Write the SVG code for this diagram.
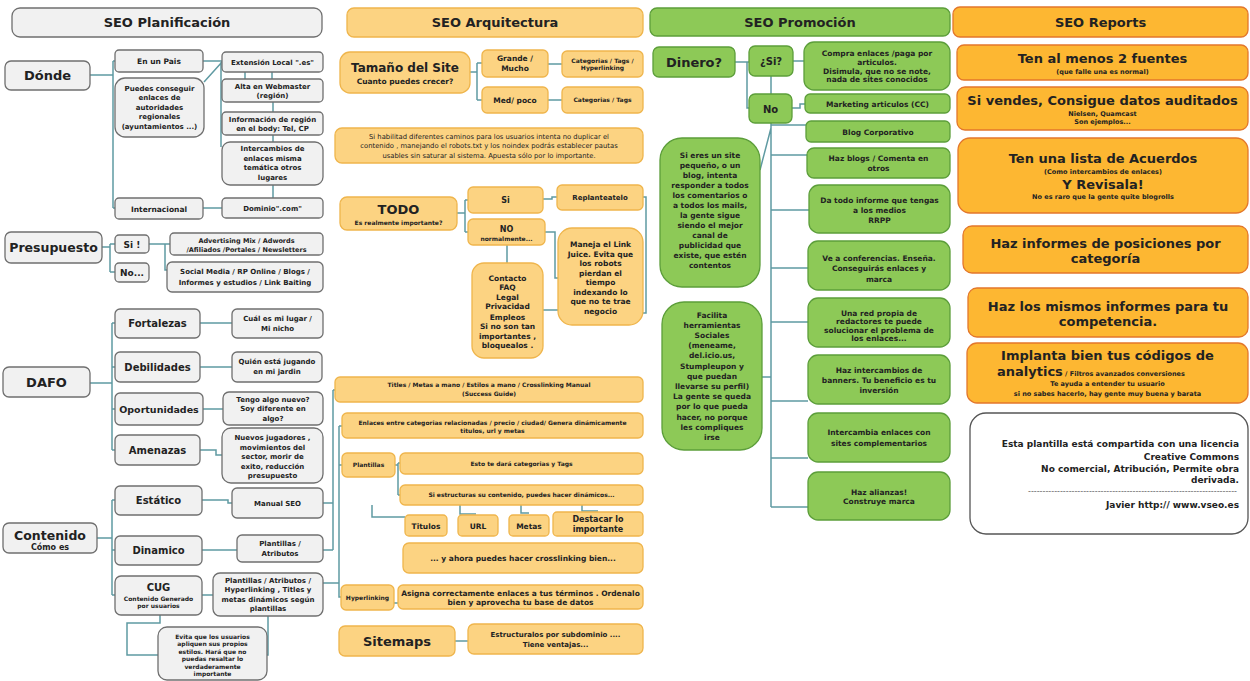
<svg xmlns="http://www.w3.org/2000/svg" width="1250" height="681" viewBox="0 0 1250 681">
<style>
text{font-family:"DejaVu Sans","Liberation Sans",sans-serif;font-weight:bold;fill:#222;text-anchor:middle}
.p{fill:#f1f1f1;stroke:#6f6f6f;stroke-width:1.3}
.a{fill:#fcd382;stroke:#efb54c;stroke-width:1.3}
.g{fill:#8dc957;stroke:#5c9e3a;stroke-width:1.3}
.r{fill:#fdb732;stroke:#e3772b;stroke-width:1.3}
.w{fill:#fff;stroke:#555;stroke-width:1.3}
.c path{fill:none;stroke:#5f9aa2;stroke-width:1.5}
.t13{font-size:13px}.t125{font-size:12.5px}.t12{font-size:12px}.t10{font-size:10px}.t95{font-size:9.5px}.t9{font-size:9px}.t8{font-size:8px}.t75{font-size:7.5px}.t7{font-size:7px}.t65{font-size:6.5px}.t6{font-size:6px}
.n{font-weight:normal;font-size:6.8px}
.e{text-anchor:end;font-size:9px}
</style>

<g class="c" id="connectors">
<path d="M90,75H113M113,61V208M113,61H115M113,208H115M203,61H222M204,82L222,62M221,62V147M245,72V79M272,72V79M273,102V112M273,135V142M273,185V198M203,208H222"/>
<path d="M102,247H110M110,244V272M110,244H115M110,272H115M149,244H170M165,244V270H167"/>
<path d="M90,383H112M112,323V450M112,323H115M112,367H115M112,409H115M112,450H115M200,323H232M200,367H232M203,409H223M200,450H216V455H222"/>
<path d="M97,538H112M112,500V595M112,500H115M112,550H115M112,595H115M202,500H228V503H232M202,550H237M202,595H213M160,615V623H127V655H158M268,616V655H267"/>
<path d="M323,503H333M333,390V550M333,390H335M323,550H333M339,426V597H341M339,426H342M339,465H342M323,583H339"/>
<path d="M470,72H477M477,63V100M477,63H482M477,100H482M548,64H562M548,100H562"/>
<path d="M457,213H465M465,200V232M465,200H468M465,232H468M543,199H552V197H557M643,197H646V313H643M545,232H555V278H558M507,245V263M543,310H558"/>
<path d="M395,465H398M398,463V495M398,463H400M398,495H400M372,505V517H405M460,505V514H476M521,505V513H529M582,505V511H598M394,603H398"/>
<path d="M455,641H468"/>
<path d="M735,62H749M747,62V108H749M771,76V94M793,61H804M792,108H800V104H805M771,123V507M771,125H806M771,155H807M771,210H809M771,268H808M771,322H808M771,401H808M771,458H808M771,507H808M760,170L771,128M762,377H771"/>
</g>

<g id="hdr-planificacion"><rect class="p" x="12" y="8" width="310" height="29" rx="8"/><text class="t13" x="167" y="27">SEO Planificación</text></g>
<g id="donde"><rect class="p" x="5" y="61" width="85" height="29" rx="6"/><text class="t13" x="47.5" y="80">Dónde</text></g>
<g id="en-un-pais"><rect class="p" x="115" y="50" width="88" height="22" rx="4"/><text class="t75" x="159" y="64">En un Pais</text></g>
<g id="puedes"><rect class="p" x="115" y="78" width="89" height="59" rx="10"/>
<text class="t7" x="159.5" y="90.5">Puedes conseguir</text><text class="t7" x="159.5" y="100">enlaces de</text><text class="t7" x="159.5" y="109.5">autoridades</text><text class="t7" x="159.5" y="119">regionales</text><text class="t7" x="159.5" y="128.5">(ayuntamientos ...)</text></g>
<g id="internacional"><rect class="p" x="115" y="198" width="88" height="21" rx="4"/><text class="t75" x="159" y="211.5">Internacional</text></g>
<g id="extension"><rect class="p" x="222" y="52" width="101" height="20" rx="4"/><text class="t7" x="272.5" y="64.5">Extensión Local ".es"</text></g>
<g id="alta"><rect class="p" x="222" y="79" width="101" height="23" rx="4"/><text class="t7" x="272.5" y="88.5">Alta en Webmaster</text><text class="t7" x="272.5" y="98">(región)</text></g>
<g id="informacion"><rect class="p" x="222" y="112" width="101" height="23" rx="4"/><text class="t7" x="272.5" y="121.5">Información de región</text><text class="t7" x="272.5" y="131">en el body: Tel, CP</text></g>
<g id="intercambios"><rect class="p" x="222" y="142" width="101" height="43" rx="8"/><text class="t7" x="272.5" y="151">Intercambios de</text><text class="t7" x="272.5" y="160.5">enlaces misma</text><text class="t7" x="272.5" y="170">temática otros</text><text class="t7" x="272.5" y="179.5">lugares</text></g>
<g id="dominio"><rect class="p" x="222" y="198" width="101" height="20" rx="4"/><text class="t7" x="272.5" y="211">Dominio".com"</text></g>

<g id="presupuesto"><rect class="p" x="5" y="232" width="97" height="31" rx="6"/><text class="t125" x="53.5" y="252">Presupuesto</text></g>
<g id="si-presu"><rect class="p" x="115" y="235" width="34" height="18" rx="4"/><text class="t9" x="132" y="247.5">Si !</text></g>
<g id="no-presu"><rect class="p" x="115" y="263" width="34" height="19" rx="4"/><text class="t9" x="132" y="276">No...</text></g>
<g id="advertising"><rect class="p" x="170" y="233" width="153" height="22" rx="4"/><text class="t65" x="246.5" y="242.5">Advertising Mix  /  Adwords</text><text class="t65" x="246.5" y="251.5">/Afiliados /Portales / Newsletters</text></g>
<g id="social"><rect class="p" x="167" y="262" width="156" height="30" rx="5"/><text class="t7" x="245" y="274">Social Media / RP Online / Blogs /</text><text class="t7" x="245" y="285">Informes y estudios / Link Baiting</text></g>

<g id="dafo"><rect class="p" x="3" y="367" width="87" height="30" rx="6"/><text class="t13" x="46.5" y="387">DAFO</text></g>
<g id="fortalezas"><rect class="p" x="115" y="309" width="85" height="29" rx="5"/><text class="t10" x="157.5" y="327">Fortalezas</text></g>
<g id="debilidades"><rect class="p" x="115" y="352" width="85" height="30" rx="5"/><text class="t10" x="157.5" y="370.5">Debilidades</text></g>
<g id="oportunidades"><rect class="p" x="115" y="393" width="88" height="32" rx="5"/><text class="t95" x="159" y="412.5">Oportunidades</text></g>
<g id="amenazas"><rect class="p" x="115" y="435" width="85" height="30" rx="5"/><text class="t10" x="157.5" y="453.5">Amenazas</text></g>
<g id="cual"><rect class="p" x="232" y="309" width="91" height="29" rx="5"/><text class="t7" x="277.5" y="321">Cuál es mi lugar /</text><text class="t7" x="277.5" y="331">Mi nicho</text></g>
<g id="quien"><rect class="p" x="232" y="352" width="90" height="30" rx="5"/><text class="t7" x="277" y="364">Quién está jugando</text><text class="t7" x="277" y="374">en mi jardin</text></g>
<g id="tengo"><rect class="p" x="223" y="392" width="100" height="33" rx="6"/><text class="t7" x="273" y="401.5">Tengo algo nuevo?</text><text class="t7" x="273" y="411">Soy diferente en</text><text class="t7" x="273" y="420.5">algo?</text></g>
<g id="nuevos"><rect class="p" x="222" y="428" width="101" height="55" rx="9"/><text class="t7" x="272.5" y="440">Nuevos jugadores ,</text><text class="t7" x="272.5" y="449.5">movimientos  del</text><text class="t7" x="272.5" y="459">sector, morir de</text><text class="t7" x="272.5" y="468.5">exito, reducción</text><text class="t7" x="272.5" y="478">presupuesto</text></g>

<g id="contenido"><rect class="p" x="3" y="523" width="94" height="30" rx="6"/><text class="t125" x="50" y="539.5">Contenido</text><text class="t8" x="50" y="550">Cómo es</text></g>
<g id="estatico"><rect class="p" x="115" y="486" width="87" height="29" rx="5"/><text class="t10" x="158.5" y="504">Estático</text></g>
<g id="manual-seo"><rect class="p" x="232" y="488" width="91" height="30" rx="5"/><text class="t7" x="277.5" y="505.5">Manual SEO</text></g>
<g id="dinamico"><rect class="p" x="115" y="536" width="87" height="29" rx="5"/><text class="t10" x="158.5" y="554">Dinamico</text></g>
<g id="plantillas-atrib"><rect class="p" x="237" y="535" width="86" height="27" rx="5"/><text class="t7" x="280" y="546">Plantillas /</text><text class="t7" x="280" y="555.5">Atributos</text></g>
<g id="cug"><rect class="p" x="115" y="576" width="87" height="39" rx="6"/><text class="t10" x="158.5" y="591">CUG</text><text class="t6" x="158.5" y="600.5">Contenido Generado</text><text class="t6" x="158.5" y="607.5">por usuarios</text></g>
<g id="plantillas-hyper"><rect class="p" x="213" y="573" width="110" height="43" rx="7"/><text class="t7" x="268" y="582.5">Plantillas / Atributos /</text><text class="t7" x="268" y="592">Hyperlinking , Titles y</text><text class="t7" x="268" y="601.5">metas dinámicos según</text><text class="t7" x="268" y="611">plantillas</text></g>
<g id="evita"><rect class="p" x="158" y="627" width="109" height="53" rx="9"/><text class="t6" x="212.5" y="638.5">Evita que los usuarios</text><text class="t6" x="212.5" y="646">apliquen sus propios</text><text class="t6" x="212.5" y="653.5">estilos. Hará que no</text><text class="t6" x="212.5" y="661">puedas resaltar lo</text><text class="t6" x="212.5" y="668.5">verdaderamente</text><text class="t6" x="212.5" y="676">importante</text></g>

<g id="hdr-arquitectura"><rect class="a" x="347" y="8" width="296" height="29" rx="7"/><text class="t13" x="495" y="27">SEO Arquitectura</text></g>
<g id="tamano"><rect class="a" x="340" y="52" width="130" height="41" rx="10"/><text class="t12" x="405" y="72">Tamaño del Site</text><text class="t75" x="405" y="83.5">Cuanto puedes crecer?</text></g>
<g id="grande"><rect class="a" x="482" y="50" width="66" height="27" rx="5"/><text class="t75" x="515" y="61">Grande /</text><text class="t75" x="515" y="70.5">Mucho</text></g>
<g id="cat-tags-hyper"><rect class="a" x="562" y="51" width="81" height="26" rx="5"/><text class="t6" x="602.5" y="62.5">Categorias / Tags /</text><text class="t6" x="602.5" y="70">Hyperlinking</text></g>
<g id="med-poco"><rect class="a" x="482" y="87" width="66" height="26" rx="5"/><text class="t75" x="515" y="102.5">Med/ poco</text></g>
<g id="cat-tags"><rect class="a" x="562" y="87" width="81" height="26" rx="5"/><text class="t6" x="602.5" y="102">Categorias / Tags</text></g>
<g id="si-habilitad"><rect class="a" x="335" y="128" width="308" height="35" rx="7"/><text class="n" x="489" y="138.5">Si habilitad diferentes caminos para los usuarios intenta no duplicar el</text><text class="n" x="489" y="148">contenido , manejando el robots.txt y los noindex podrás establecer pautas</text><text class="n" x="489" y="157.5">usables sin saturar al sistema. Apuesta sólo por lo importante.</text></g>
<g id="todo"><rect class="a" x="340" y="197" width="117" height="33" rx="7"/><text class="t13" x="398.5" y="214">TODO</text><text class="t6" x="398.5" y="224.5">Es realmente importante?</text></g>
<g id="si-arq"><rect class="a" x="468" y="187" width="75" height="26" rx="5"/><text class="t8" x="505.5" y="203">Si</text></g>
<g id="replanteatelo"><rect class="a" x="557" y="185" width="86" height="25" rx="5"/><text class="t7" x="600" y="200">Replanteatelo</text></g>
<g id="no-normalmente"><rect class="a" x="468" y="219" width="77" height="26" rx="5"/><text class="t8" x="506.5" y="231.5">NO</text><text class="t6" x="506.5" y="241">normalmente...</text></g>
<g id="maneja"><rect class="a" x="558" y="228" width="85" height="97" rx="14"/><text class="t75" x="600.5" y="247">Maneja el Link</text><text class="t75" x="600.5" y="256.5">Juice. Evita que</text><text class="t75" x="600.5" y="266">los robots</text><text class="t75" x="600.5" y="275.5">pierdan el</text><text class="t75" x="600.5" y="285">tiempo</text><text class="t75" x="600.5" y="294.5">indexando lo</text><text class="t75" x="600.5" y="304">que no te trae</text><text class="t75" x="600.5" y="313.5">negocio</text></g>
<g id="contacto"><rect class="a" x="472" y="263" width="71" height="95" rx="12"/><text class="t75" x="507.5" y="280.5">Contacto</text><text class="t75" x="507.5" y="290">FAQ</text><text class="t75" x="507.5" y="299.5">Legal</text><text class="t75" x="507.5" y="309">Privacidad</text><text class="t75" x="507.5" y="319.5">Empleos</text><text class="t75" x="507.5" y="329">Si no son tan</text><text class="t75" x="507.5" y="338.5">importantes ,</text><text class="t75" x="507.5" y="348">bloquealos .</text></g>
<g id="titles"><rect class="a" x="335" y="377" width="308" height="25" rx="5"/><text class="t6" x="489" y="387">Titles / Metas a mano / Estilos a mano / Crosslinking Manual</text><text class="t6" x="489" y="396">(Success Guide)</text></g>
<g id="enlaces"><rect class="a" x="342" y="413" width="301" height="25" rx="5"/><text class="t6" x="492.5" y="424.5">Enlaces entre categorias relacionadas / precio / ciudad/ Genera dinámicamente</text><text class="t6" x="492.5" y="432.5">titulos, url y metas</text></g>
<g id="plantillas-arq"><rect class="a" x="342" y="453" width="53" height="24" rx="5"/><text class="t6" x="368.5" y="467">Plantillas</text></g>
<g id="esto"><rect class="a" x="400" y="453" width="243" height="21" rx="5"/><text class="t6" x="521.5" y="465.5">Esto te dará categorias y Tags</text></g>
<g id="si-estructuras"><rect class="a" x="400" y="485" width="243" height="20" rx="5"/><text class="t6" x="521.5" y="497">Si estructuras su contenido, puedes hacer dinámicos...</text></g>
<g id="titulos"><rect class="a" x="405" y="515" width="42" height="21" rx="4"/><text class="t75" x="426" y="528.5">Titulos</text></g>
<g id="url"><rect class="a" x="458" y="515" width="40" height="21" rx="4"/><text class="t75" x="478" y="528.5">URL</text></g>
<g id="metas"><rect class="a" x="509" y="515" width="40" height="21" rx="4"/><text class="t75" x="529" y="528.5">Metas</text></g>
<g id="destacar"><rect class="a" x="553" y="512" width="90" height="24" rx="4"/><text class="t8" x="598" y="522">Destacar lo</text><text class="t8" x="598" y="531.5">importante</text></g>
<g id="crosslinking"><rect class="a" x="403" y="543" width="240" height="30" rx="6"/><text class="t75" x="523" y="561">... y ahora puedes hacer crosslinking bien...</text></g>
<g id="hyperlinking"><rect class="a" x="341" y="585" width="53" height="25" rx="5"/><text class="t6" x="367.5" y="600">Hyperlinking</text></g>
<g id="asigna"><rect class="a" x="398" y="585" width="245" height="24" rx="5"/><text class="t75" x="520.5" y="595.5">Asigna correctamente  enlaces a tus términos . Ordenalo</text><text class="t75" x="520.5" y="605">bien y aprovecha  tu base de datos</text></g>
<g id="sitemaps"><rect class="a" x="339" y="626" width="116" height="30" rx="6"/><text class="t13" x="397" y="646">Sitemaps</text></g>
<g id="estructuralos"><rect class="a" x="468" y="624" width="175" height="30" rx="6"/><text class="t7" x="555.5" y="636.5">Estructuralos  por subdominio ....</text><text class="t7" x="555.5" y="646.5">Tiene ventajas...</text></g>

<g id="hdr-promocion"><rect class="g" x="650" y="8" width="300" height="28" rx="7"/><text class="t13" x="800" y="26.5">SEO Promoción</text></g>
<g id="dinero"><rect class="g" x="653" y="47" width="82" height="30" rx="6"/><text class="t13" x="694" y="66.5">Dinero?</text></g>
<g id="si-dinero"><rect class="g" x="749" y="46" width="44" height="30" rx="6"/><text class="t10" x="771" y="65">¿Si?</text></g>
<g id="compra"><rect class="g" x="804" y="42" width="146" height="48" rx="10"/><text class="t75" x="877" y="56">Compra enlaces /paga por</text><text class="t75" x="877" y="64.5">articulos.</text><text class="t75" x="877" y="73.5">Disimula, que no se note,</text><text class="t75" x="877" y="82">nada de sites conocidos</text></g>
<g id="no-dinero"><rect class="g" x="749" y="94" width="43" height="29" rx="6"/><text class="t10" x="770.5" y="112.5">No</text></g>
<g id="marketing"><rect class="g" x="805" y="94" width="145" height="19" rx="5"/><text class="t75" x="877.5" y="106.5">Marketing articulos (CC)</text></g>
<g id="blog-corp"><rect class="g" x="806" y="121" width="144" height="21" rx="5"/><text class="t75" x="878" y="134.5">Blog Corporativo</text></g>
<g id="haz-blogs"><rect class="g" x="807" y="148" width="143" height="30" rx="7"/><text class="t75" x="878.5" y="161">Haz blogs / Comenta en</text><text class="t75" x="878.5" y="171">otros</text></g>
<g id="da-todo"><rect class="g" x="809" y="185" width="141" height="48" rx="10"/><text class="t75" x="879.5" y="202.5">Da todo informe que tengas</text><text class="t75" x="879.5" y="212.5">a los medios</text><text class="t75" x="879.5" y="222.5">RRPP</text></g>
<g id="conferencias"><rect class="g" x="808" y="241" width="142" height="49" rx="10"/><text class="t75" x="879" y="261">Ve a conferencias. Enseña.</text><text class="t75" x="879" y="271">Conseguirás enlaces y</text><text class="t75" x="879" y="281.5">marca</text></g>
<g id="red-propia"><rect class="g" x="808" y="298" width="142" height="49" rx="10"/><text class="t75" x="879" y="315.5">Una red propia de</text><text class="t75" x="879" y="324">redactores te puede</text><text class="t75" x="879" y="332.5">solucionar el problema de</text><text class="t75" x="879" y="341">los enlaces...</text></g>
<g id="banners"><rect class="g" x="808" y="355" width="142" height="49" rx="10"/><text class="t75" x="879" y="373">Haz intercambios de</text><text class="t75" x="879" y="383">banners. Tu beneficio es tu</text><text class="t75" x="879" y="393">inversión</text></g>
<g id="intercambia"><rect class="g" x="808" y="413" width="142" height="49" rx="10"/><text class="t75" x="879" y="434.5">Intercambia enlaces con</text><text class="t75" x="879" y="446">sites complementarios</text></g>
<g id="alianzas"><rect class="g" x="808" y="472" width="142" height="48" rx="10"/><text class="t75" x="879" y="494.5">Haz alianzas!</text><text class="t75" x="879" y="504">Construye marca</text></g>
<g id="site-pequeno"><rect class="g" x="660" y="138" width="100" height="149" rx="22"/>
<text class="t75" x="710" y="157.5">Si eres un site</text><text class="t75" x="710" y="167.5">pequeño, o un</text><text class="t75" x="710" y="177.5">blog, intenta</text><text class="t75" x="710" y="187.5">responder a todos</text><text class="t75" x="710" y="197.5">los comentarios o</text><text class="t75" x="710" y="207.5">a todos los mails,</text><text class="t75" x="710" y="217.5">la gente sigue</text><text class="t75" x="710" y="227.5">siendo el mejor</text><text class="t75" x="710" y="237.5">canal de</text><text class="t75" x="710" y="247.5">publicidad que</text><text class="t75" x="710" y="257.5">existe, que estén</text><text class="t75" x="710" y="267.5">contentos</text></g>
<g id="facilita"><rect class="g" x="662" y="302" width="100" height="148" rx="22"/>
<text class="t75" x="712" y="317.5">Facilita</text><text class="t75" x="712" y="327.7">herramientas</text><text class="t75" x="712" y="337.9">Sociales</text><text class="t75" x="712" y="348.1">(meneame,</text><text class="t75" x="712" y="358.3">del.icio.us,</text><text class="t75" x="712" y="368.5">Stumpleupon y</text><text class="t75" x="712" y="378.7">que puedan</text><text class="t75" x="712" y="388.9">llevarse su perfil)</text><text class="t75" x="712" y="399.1">La gente se queda</text><text class="t75" x="712" y="409.3">por lo que pueda</text><text class="t75" x="712" y="419.5">hacer, no porque</text><text class="t75" x="712" y="429.7">les compliques</text><text class="t75" x="712" y="439.9">irse</text></g>

<g id="hdr-reports"><rect class="r" x="953" y="7" width="295" height="30" rx="7"/><text class="t13" x="1100.5" y="27">SEO Reports</text></g>
<g id="fuentes"><rect class="r" x="957" y="45" width="291" height="35" rx="7"/><text class="t13" x="1102.5" y="62.5">Ten al menos 2 fuentes</text><text class="t65" x="1102.5" y="74">(que falle una es normal)</text></g>
<g id="auditados"><rect class="r" x="957" y="87" width="291" height="43" rx="8"/><text class="t13" x="1102.5" y="104.5">Si vendes, Consigue datos auditados</text><text class="t65" x="1102.5" y="115.5">Nielsen, Quamcast</text><text class="t65" x="1102.5" y="124">Son ejemplos...</text></g>
<g id="acuerdos"><rect class="r" x="958" y="138" width="290" height="75" rx="12"/><text class="t13" x="1103" y="163">Ten una lista de Acuerdos</text><text class="t65" x="1103" y="174">(Como intercambios de enlaces)</text><text class="t13" x="1103" y="188.5">Y Revisala!</text><text class="t65" x="1103" y="199">No es raro que la gente quite blogrolls</text></g>
<g id="posiciones"><rect class="r" x="963" y="226" width="285" height="47" rx="9"/><text class="t13" x="1105.5" y="247.8">Haz informes de posiciones por</text><text class="t13" x="1105.5" y="262.8">categoría</text></g>
<g id="competencia"><rect class="r" x="968" y="288" width="280" height="49" rx="9"/><text class="t13" x="1108" y="310.5">Haz los mismos informes para tu</text><text class="t13" x="1108" y="326">competencia.</text></g>
<g id="analytics"><rect class="r" x="967" y="343" width="281" height="60" rx="10"/><text class="t13" x="1107.5" y="359.5">Implanta bien tus códigos de</text><text class="t13" x="997" y="376" style="text-anchor:start">analytics<tspan class="t65"> / Filtros avanzados conversiones</tspan></text><text class="t65" x="1107.5" y="385.5">Te ayuda a entender tu usuario</text><text class="t65" x="1107.5" y="395.5">si no sabes hacerlo, hay gente muy buena y barata</text></g>
<g id="licencia"><rect class="w" x="970" y="413" width="278" height="121" rx="16"/><text class="e" x="1239" y="446.5">Esta plantilla está compartida con una licencia</text><text class="e" x="1239" y="460">Creative Commons</text><text class="e" x="1239" y="471.5">No comercial, Atribución, Permite obra</text><text class="e" x="1239" y="483">derivada.</text><text class="e" x="1237" y="494" style="font-weight:normal;font-size:8px;fill:#666" textLength="209" lengthAdjust="spacingAndGlyphs">------------------------------------------------------------------------</text><text class="e" x="1239" y="507.5">Javier http:// www.vseo.es</text></g>
</svg>
